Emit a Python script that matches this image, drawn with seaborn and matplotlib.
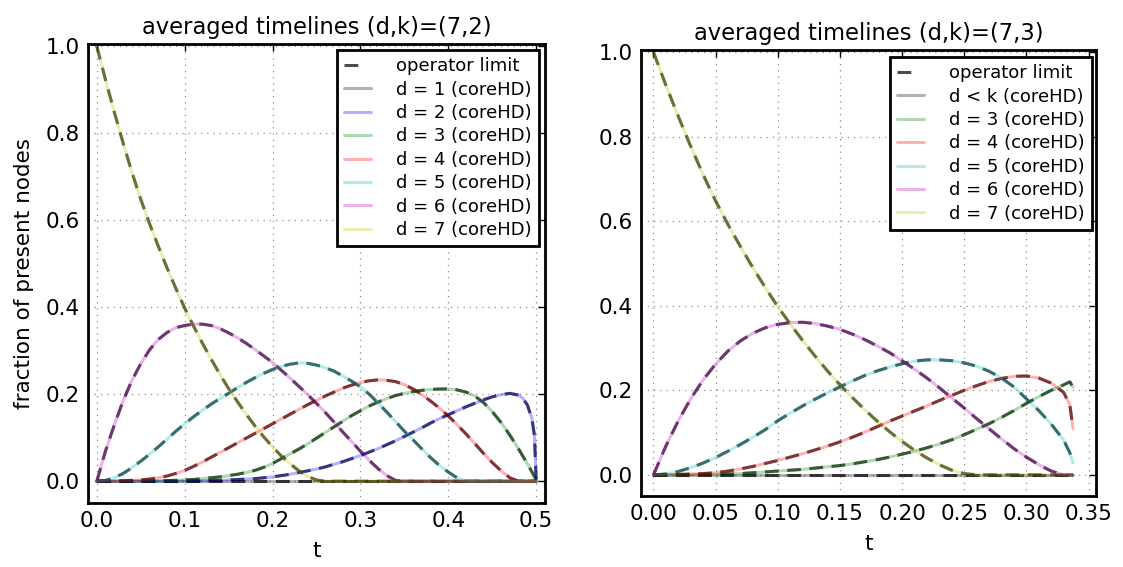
import numpy as np
import pandas as pd
import matplotlib
matplotlib.use("Agg")
import matplotlib.pyplot as plt
import seaborn as sns

# ---------------- data ----------------
t_left = [0.00, 0.01, 0.02, 0.03, 0.04, 0.05, 0.06, 0.07, 0.08, 0.09,
          0.10, 0.11, 0.12, 0.13, 0.14, 0.15, 0.16, 0.17, 0.18, 0.19,
          0.20, 0.21, 0.22, 0.23, 0.24, 0.25, 0.26, 0.27, 0.28, 0.29,
          0.30, 0.31, 0.32, 0.33, 0.34, 0.35, 0.36, 0.37, 0.38, 0.39,
          0.40, 0.41, 0.42, 0.43, 0.44, 0.45, 0.46, 0.47, 0.48,
          0.485, 0.49, 0.495, 0.498, 0.50]

left_d1 = [0.0] * 54
left_d2 = [0, 0, 0, 0, 0, 0, 0, 0, 0, 0,
           0.0005, 0.0008, 0.001, 0.0015, 0.002, 0.003, 0.004, 0.005, 0.006, 0.008,
           0.010, 0.013, 0.016, 0.020, 0.024, 0.028, 0.033, 0.039, 0.045, 0.052,
           0.059, 0.067, 0.075, 0.084, 0.093, 0.103, 0.113, 0.123, 0.134, 0.144,
           0.153, 0.162, 0.171, 0.179, 0.187, 0.194, 0.199, 0.202, 0.198,
           0.190, 0.175, 0.145, 0.105, 0.0]
left_d3 = [0, 0, 0, 0, 0, 0, 0.0005, 0.001, 0.0015, 0.002,
           0.003, 0.004, 0.006, 0.008, 0.010, 0.013, 0.016, 0.020, 0.025, 0.032,
           0.041, 0.052, 0.063, 0.074, 0.086, 0.099, 0.112, 0.125, 0.138, 0.151,
           0.162, 0.173, 0.182, 0.190, 0.197, 0.202, 0.206, 0.209, 0.211, 0.212,
           0.212, 0.210, 0.205, 0.196, 0.181, 0.160, 0.135, 0.106, 0.074,
           0.057, 0.040, 0.022, 0.011, 0.004]
left_d4 = [0, 0.0002, 0.0005, 0.001, 0.002, 0.003, 0.005, 0.008, 0.012, 0.018,
           0.025, 0.034, 0.044, 0.055, 0.066, 0.077, 0.088, 0.099, 0.110, 0.121,
           0.132, 0.143, 0.154, 0.165, 0.176, 0.186, 0.196, 0.205, 0.214, 0.221,
           0.227, 0.231, 0.233, 0.232, 0.229, 0.222, 0.212, 0.199, 0.184, 0.168,
           0.150, 0.130, 0.109, 0.087, 0.064, 0.043, 0.024, 0.008, 0.0,
           0, 0, 0, 0, 0]
left_d5 = [0, 0.002, 0.008, 0.018, 0.031, 0.046, 0.062, 0.079, 0.097, 0.115,
           0.132, 0.148, 0.163, 0.177, 0.190, 0.202, 0.215, 0.227, 0.238, 0.248,
           0.257, 0.264, 0.269, 0.272, 0.271, 0.267, 0.261, 0.253, 0.242, 0.230,
           0.217, 0.200, 0.180, 0.159, 0.137, 0.115, 0.095, 0.074, 0.054, 0.036,
           0.021, 0.008, 0, 0, 0, 0, 0, 0, 0,
           0, 0, 0, 0, 0]
left_d6 = [0, 0.070, 0.130, 0.185, 0.232, 0.270, 0.302, 0.326, 0.342, 0.353,
           0.358, 0.361, 0.361, 0.358, 0.351, 0.341, 0.330, 0.317, 0.303, 0.288,
           0.273, 0.255, 0.237, 0.218, 0.199, 0.179, 0.158, 0.136, 0.113, 0.091,
           0.069, 0.048, 0.029, 0.013, 0.002, 0, 0, 0, 0, 0,
           0, 0, 0, 0, 0, 0, 0, 0, 0,
           0, 0, 0, 0, 0]
left_d7 = [1.0, 0.922, 0.848, 0.777, 0.710, 0.648, 0.592, 0.540, 0.490, 0.443,
           0.398, 0.357, 0.318, 0.281, 0.246, 0.213, 0.183, 0.154, 0.127, 0.102,
           0.079, 0.058, 0.040, 0.024, 0.011, 0.003, 0, 0, 0, 0,
           0, 0, 0, 0, 0, 0, 0, 0, 0, 0,
           0, 0, 0, 0, 0, 0, 0, 0, 0,
           0, 0, 0, 0, 0]

t_right = [0.00, 0.01, 0.02, 0.03, 0.04, 0.05, 0.06, 0.07, 0.08, 0.09,
           0.10, 0.11, 0.12, 0.13, 0.14, 0.15, 0.16, 0.17, 0.18, 0.19,
           0.20, 0.21, 0.22, 0.23, 0.24, 0.25, 0.26, 0.27, 0.28, 0.29,
           0.30, 0.31, 0.32, 0.33, 0.335, 0.3375]

right_dlk = [0.0] * 36
right_d3 = [0, 0, 0.0002, 0.0005, 0.001, 0.0015, 0.002, 0.003, 0.005, 0.007,
            0.009, 0.011, 0.013, 0.016, 0.019, 0.022, 0.026, 0.031, 0.036, 0.042,
            0.049, 0.056, 0.064, 0.073, 0.083, 0.095, 0.108, 0.121, 0.136, 0.152,
            0.169, 0.185, 0.200, 0.213, 0.220, 0.207]
right_d4 = [0, 0.0003, 0.001, 0.002, 0.003, 0.005, 0.009, 0.014, 0.020, 0.027,
            0.034, 0.042, 0.050, 0.059, 0.068, 0.078, 0.089, 0.101, 0.114, 0.127,
            0.139, 0.151, 0.163, 0.176, 0.188, 0.200, 0.211, 0.221, 0.228, 0.233,
            0.234, 0.229, 0.217, 0.195, 0.165, 0.110]
right_d5 = [0, 0.002, 0.008, 0.017, 0.028, 0.041, 0.056, 0.072, 0.089, 0.107,
            0.128, 0.146, 0.163, 0.179, 0.194, 0.208, 0.222, 0.235, 0.246, 0.255,
            0.263, 0.269, 0.272, 0.272, 0.270, 0.265, 0.257, 0.245, 0.229, 0.208,
            0.180, 0.152, 0.120, 0.082, 0.052, 0.028]
right_d6 = [0, 0.068, 0.128, 0.180, 0.225, 0.262, 0.293, 0.317, 0.335, 0.348,
            0.356, 0.360, 0.361, 0.358, 0.352, 0.344, 0.333, 0.320, 0.305, 0.289,
            0.270, 0.250, 0.229, 0.206, 0.182, 0.158, 0.133, 0.109, 0.085, 0.062,
            0.042, 0.024, 0.009, 0.0, 0.0, 0.0]
right_d7 = [1.0, 0.922, 0.848, 0.777, 0.710, 0.648, 0.592, 0.540, 0.490, 0.443,
            0.398, 0.357, 0.318, 0.281, 0.246, 0.213, 0.183, 0.154, 0.127, 0.102,
            0.079, 0.058, 0.040, 0.024, 0.011, 0.003, 0, 0, 0, 0,
            0, 0, 0, 0, 0, 0]

left_labels = ["d = 1 (coreHD)", "d = 2 (coreHD)", "d = 3 (coreHD)", "d = 4 (coreHD)",
               "d = 5 (coreHD)", "d = 6 (coreHD)", "d = 7 (coreHD)"]
right_labels = ["d < k (coreHD)", "d = 3 (coreHD)", "d = 4 (coreHD)",
                "d = 5 (coreHD)", "d = 6 (coreHD)", "d = 7 (coreHD)"]
left_colors = ["k", "b", "g", "r", "c", "m", "y"]
right_colors = ["k", "g", "r", "c", "m", "y"]
left_series = [left_d1, left_d2, left_d3, left_d4, left_d5, left_d6, left_d7]
right_series = [right_dlk, right_d3, right_d4, right_d5, right_d6, right_d7]

titles = ["averaged timelines (d,k)=(7,2)", "averaged timelines (d,k)=(7,3)"]

# ---------------- style ----------------
sns.set_style("white")
plt.rcParams.update({
    "font.family": ["DejaVu Sans"],
    "text.color": "black", "axes.labelcolor": "black",
    "xtick.direction": "in", "ytick.direction": "in",
    "xtick.top": True, "ytick.right": True,
    "xtick.major.size": 5, "ytick.major.size": 5,
    "xtick.major.width": 1.0, "ytick.major.width": 1.0,
    "xtick.major.pad": 6, "ytick.major.pad": 6,
    "xtick.color": "black", "ytick.color": "black",
    "xtick.labelcolor": "black", "ytick.labelcolor": "black",
    "axes.edgecolor": "black", "axes.linewidth": 2.0,
    "xtick.labelsize": 15.5, "ytick.labelsize": 15.5,
})

W, H = 1123, 567
fig = plt.figure(figsize=(W / 100, H / 100), dpi=100)
ax1 = fig.add_axes([88 / W, 1 - 503 / H, 457 / W, 459 / H])
ax2 = fig.add_axes([641 / W, 1 - 496 / H, 455 / W, 446 / H])

DASH = (0, (4.5, 2.8))
LW = 2.2


def draw(ax, t, series, colors, labels):
    # operator-limit (dashed) lines first
    for i, ys in enumerate(series):
        df = pd.DataFrame({"t": t, "v": ys})
        sns.lineplot(data=df, x="t", y="v", ax=ax, color="k", alpha=0.7,
                     lw=LW, linestyle=DASH, errorbar=None,
                     label="operator limit" if i == 0 else "_nolegend_")
    # coreHD lines
    for ys, c, lab in zip(series, colors, labels):
        df = pd.DataFrame({"t": t, "v": ys})
        sns.lineplot(data=df, x="t", y="v", ax=ax, color=c, alpha=0.3,
                     lw=LW, errorbar=None, label=lab)


draw(ax1, t_left, left_series, left_colors, left_labels)
draw(ax2, t_right, right_series, right_colors, right_labels)

for ax, title in zip([ax1, ax2], titles):
    ax.set_title(title, fontsize=16.3, pad=7, color="black")
    ax.set_xlabel("t", fontsize=15.5, color="black", labelpad=7)
    ax.set_ylabel("")
    ax.set_ylim(-0.05, 1.005)
    ax.set_yticks([0.0, 0.2, 0.4, 0.6, 0.8, 1.0])
    ax.grid(True, color="0.55", linestyle=(0, (1, 4)), linewidth=0.9)
    ax.set_axisbelow(True)
    for s in ax.spines.values():
        s.set_visible(True)
        s.set_linewidth(2.0)
        s.set_color("black")

ax1.set_xlim(-0.01, 0.51)
ax1.set_xticks([0.0, 0.1, 0.2, 0.3, 0.4, 0.5])
ax2.set_xlim(-0.01, 0.356)
ax2.set_xticks([0.00, 0.05, 0.10, 0.15, 0.20, 0.25, 0.30, 0.35])
ax1.set_ylabel("fraction of present nodes", fontsize=15.5, labelpad=8,
               color="black")

legend_anchor = [(539 / W, 1 - 50 / H), (1092 / W, 1 - 57 / H)]
for ax, anc in zip([ax1, ax2], legend_anchor):
    h, l = ax.get_legend_handles_labels()
    leg = ax.legend(h, l, loc="upper right", bbox_to_anchor=anc,
                    bbox_transform=fig.transFigure, borderaxespad=0,
                    fontsize=13, frameon=True, fancybox=False, framealpha=1,
                    edgecolor="black", handlelength=1.5, handletextpad=1.4,
                    labelspacing=0.3, borderpad=0.4)
    leg.get_frame().set_linewidth(2.0)
    for txt in leg.get_texts():
        txt.set_color("black")
    # the reference legend shows a single dash for the operator limit
    leg.legend_handles[0].set_linestyle((0, (4.5, 12)))

fig.savefig("out.png", dpi=100)
